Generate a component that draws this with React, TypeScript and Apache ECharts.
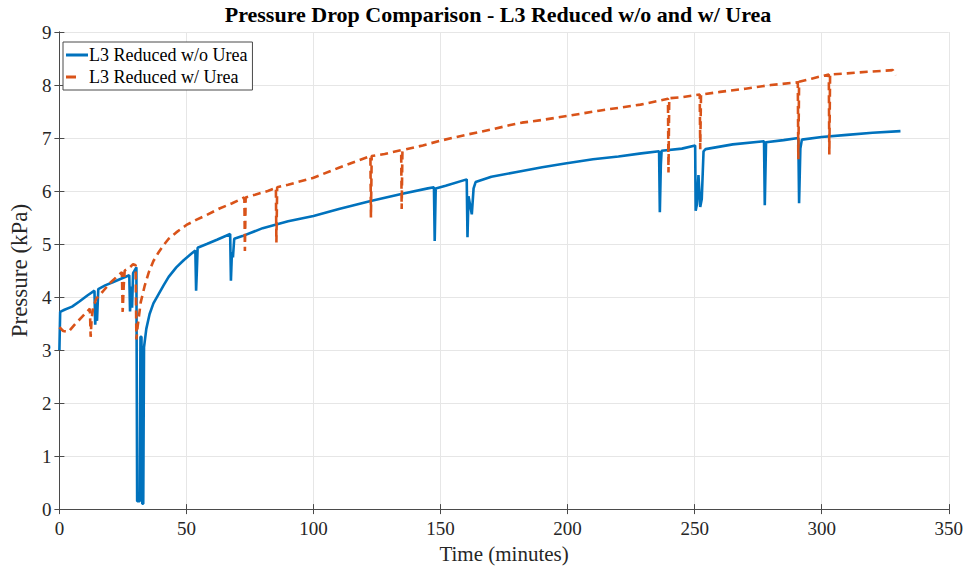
import React, { useEffect, useRef } from "react";
import * as echarts from "echarts";

const TITLE = "Pressure Drop Comparison - L3 Reduced w/o and w/ Urea";
const X_NAME = "Time (minutes)";
const Y_NAME = "Pressure (kPa)";
const SERIES_NAMES = ["L3 Reduced w/o Urea", "L3 Reduced w/ Urea"];

// Blue: L3 Reduced w/o Urea (time in minutes, pressure in kPa)
const blueT = [
  0, 0.3, 2, 5, 8, 11, 13.8, 14.1, 14.5, 14.8, 15.3, 18, 21, 24, 27.5, 27.8, 28.3, 28.6, 29, 30.3,
  30.6, 31.6, 31.9, 32.3, 32.6, 33.0, 33.3, 34.2, 35.5, 37, 39, 41, 43, 46, 49, 52, 53.5, 53.8, 54.1, 54.4,
  58, 62, 67.2, 67.5, 67.9, 68.3, 68.8, 72, 80, 90, 100, 110, 122.5, 135, 145, 147.4, 147.7, 148.1, 152,
  160.3, 160.6, 161, 162.3, 163, 163.8, 170, 180, 190, 199, 210, 220, 229, 236, 236.3, 236.7, 237, 245,
  250.2, 250.4, 250.9, 251.5, 252.2, 252.8, 253.5, 254.3, 265, 277.3, 277.6, 278.1, 285, 290.8, 291.1,
  291.6, 292.2, 300, 310, 320, 331,
];
const blueV = [
  3.0, 3.72, 3.76, 3.82, 3.92, 4.03, 4.12, 3.48, 3.9, 3.55, 4.15, 4.22, 4.28, 4.34, 4.41, 3.73, 4.2, 3.8, 4.45, 4.56,
  0.15, 0.15, 3.25, 3.25, 0.1, 0.1, 3.05, 3.4, 3.68, 3.88, 4.05, 4.22, 4.38, 4.56, 4.7, 4.82, 4.88, 4.12, 4.5, 4.93,
  5.0, 5.08, 5.19, 4.31, 4.85, 4.75, 5.1, 5.15, 5.3, 5.43, 5.53, 5.66, 5.81, 5.95, 6.05, 6.07, 5.06, 6.05, 6.1,
  6.22, 5.13, 5.9, 5.56, 6.05, 6.17, 6.27, 6.36, 6.45, 6.52, 6.6, 6.65, 6.71, 6.75, 5.6, 6.5, 6.76, 6.8,
  6.86, 5.63, 5.75, 6.3, 5.7, 5.85, 6.75, 6.79, 6.88, 6.94, 5.73, 6.92, 6.96, 7.0, 5.77,
  6.8, 6.97, 7.02, 7.06, 7.1, 7.13,
];

// Orange: L3 Reduced w/ Urea
const orangeT = [
  0, 1.5, 3.5, 6, 9, 12, 12.3, 12.7, 13.3, 14.5, 17, 20, 23, 24.6, 24.9, 25.3, 25.7, 27.5, 29, 30,
  30.3, 30.8, 32, 33.5, 35.2, 37, 39, 41, 43, 46, 50, 54, 58, 63, 68, 72.8, 73.0, 73.3, 77, 82,
  85.2, 85.4, 85.7, 90, 100, 110, 122.4, 122.6, 122.9, 128, 134.5, 134.7, 135, 143, 150, 160, 170, 177, 182, 190,
  199, 213, 228.7, 239.5, 239.7, 240, 245, 252, 252.2, 252.5, 260, 270, 280, 290.6, 290.8, 291.1, 296, 302.8, 303.0, 303.3,
  310, 318, 328, 329,
];
const orangeV = [
  3.43, 3.36, 3.34, 3.48, 3.63, 3.78, 3.25, 3.6, 3.8, 3.97, 4.1, 4.27, 4.4, 4.47, 3.72, 4.2, 4.5, 4.55, 4.62, 4.6,
  3.2, 3.45, 3.9, 4.2, 4.47, 4.68, 4.84, 4.98, 5.1, 5.22, 5.36, 5.46, 5.55, 5.67, 5.77, 5.88, 4.87, 5.88, 5.93, 6.0,
  6.06, 5.03, 6.07, 6.12, 6.25, 6.44, 6.66, 5.5, 6.66, 6.7, 6.77, 5.66, 6.77, 6.86, 6.95, 7.06, 7.16, 7.24, 7.29, 7.34,
  7.41, 7.52, 7.63, 7.74, 6.35, 7.75, 7.77, 7.82, 6.79, 7.82, 7.87, 7.93, 8.0, 8.05, 6.6, 8.06, 8.12, 8.2, 6.69, 8.2,
  8.22, 8.25, 8.28, 8.18,
];

const FONT = "'Liberation Serif', 'Times New Roman', serif";
const AX = "#262626";
const AXLINE = "#4a4a4a";
const BLUE = "#0072BD";
const ORANGE = "#D95319";

// legend sample shapes (tiny corner squares fix the bounding box)
const ICON_SOLID = "path://M0,5.5H22V8.5H0Z M0,0H0.01V0.01H0Z M21.99,13.99H22V14H21.99Z";
const ICON_DASH = "path://M0,5.5H10V8.5H0Z M0,0H0.01V0.01H0Z M21.99,13.99H22V14H21.99Z";

export default function App() {
  const ref = useRef<HTMLDivElement>(null);
  useEffect(() => {
    if (!ref.current) return;
    const chart = echarts.init(ref.current, null, { renderer: "svg" });
    const axisCommonX = {
      type: "value",
      min: 0,
      max: 350,
      interval: 50,
      axisLine: { show: true, lineStyle: { color: AXLINE, width: 1 } },
      axisTick: { show: true, inside: true, length: 5, lineStyle: { color: AXLINE } },
    };
    const axisCommonY = {
      type: "value",
      min: 0,
      max: 9,
      interval: 1,
      axisLine: { show: true, lineStyle: { color: AXLINE, width: 1 } },
      axisTick: { show: true, inside: true, length: 5, lineStyle: { color: AXLINE } },
    };
    chart.setOption({
      animation: false,
      backgroundColor: "#ffffff",
      textStyle: { fontFamily: FONT },
      grid: { left: 53, right: 14, top: 32, bottom: 58, containLabel: false },
      graphic: [
        {
          type: "text",
          x: 498,
          y: 3,
          style: {
            text: TITLE,
            fontFamily: FONT,
            fontWeight: "bold",
            fontSize: 22,
            fill: "#000000",
            textAlign: "center",
            textVerticalAlign: "top",
          },
        },
      ],
      legend: {
        orient: "vertical",
        left: 63,
        top: 42,
        padding: [4, 5, 4, 3],
        itemGap: 4,
        itemWidth: 22,
        itemHeight: 14,
        borderColor: AXLINE,
        borderWidth: 1,
        borderRadius: 0,
        backgroundColor: "#ffffff",
        textStyle: { fontFamily: FONT, fontSize: 18, color: "#000000", padding: [0, 0, 0, -4] },
        data: [
          { name: SERIES_NAMES[0], icon: ICON_SOLID, itemStyle: { color: BLUE } },
          { name: SERIES_NAMES[1], icon: ICON_DASH, itemStyle: { color: ORANGE } },
        ],
      },
      xAxis: [
        {
          ...axisCommonX,
          position: "bottom",
          axisLabel: { fontFamily: FONT, fontSize: 19, color: AX, margin: 10 },
          splitLine: { show: true, lineStyle: { color: "#e6e6e6", width: 1 } },
          name: X_NAME,
          nameLocation: "middle",
          nameGap: 32,
          nameTextStyle: { fontFamily: FONT, fontSize: 21, color: AX },
        },
        {
          ...axisCommonX,
          position: "top",
          axisLabel: { show: false },
          splitLine: { show: false },
        },
      ],
      yAxis: [
        {
          ...axisCommonY,
          position: "left",
          axisLabel: { fontFamily: FONT, fontSize: 19, color: AX, margin: 8 },
          splitLine: { show: true, lineStyle: { color: "#e6e6e6", width: 1 } },
          name: Y_NAME,
          nameLocation: "middle",
          nameGap: 22,
          nameRotate: 90,
          nameTextStyle: { fontFamily: FONT, fontSize: 23, color: AX },
        },
        {
          ...axisCommonY,
          position: "right",
          axisLabel: { show: false },
          splitLine: { show: false },
        },
      ],
      series: [
        {
          name: SERIES_NAMES[0],
          type: "line",
          xAxisIndex: 0,
          yAxisIndex: 0,
          data: blueT.map((t, i) => [t, blueV[i]]),
          showSymbol: false,
          symbol: "none",
          lineStyle: { color: BLUE, width: 2.6 },
          itemStyle: { color: BLUE },
        },
        {
          name: SERIES_NAMES[1],
          type: "line",
          xAxisIndex: 0,
          yAxisIndex: 0,
          data: orangeT.map((t, i) => [t, orangeV[i]]),
          showSymbol: false,
          symbol: "none",
          lineStyle: { color: ORANGE, width: 2.6, type: [8, 5] },
          itemStyle: { color: ORANGE },
        },
      ],
    });
    return () => chart.dispose();
  }, []);
  return (
    <div
      ref={ref}
      style={{ position: "fixed", left: 0, top: 0, width: 966, height: 569, background: "#fff" }}
    />
  );
}
